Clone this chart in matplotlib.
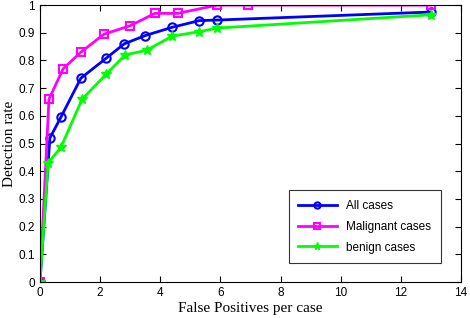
import matplotlib
matplotlib.use('Agg')
import matplotlib.pyplot as plt

# values
all_x = [0, 0.33, 0.7, 1.36, 2.2, 2.8, 3.5, 4.4, 5.3, 5.9, 13.0]
all_y = [0, 0.52, 0.596, 0.736, 0.808, 0.86, 0.89, 0.92, 0.944, 0.946, 0.975]

mal_x = [0, 0.3, 0.77, 1.36, 2.13, 2.99, 3.82, 4.58, 5.9, 6.92, 13.0]
mal_y = [0, 0.66, 0.77, 0.83, 0.895, 0.925, 0.97, 0.97, 1.0, 1.0, 1.0]

ben_x = [0, 0.27, 0.7, 1.4, 2.2, 2.83, 3.55, 4.4, 5.3, 5.9, 13.0]
ben_y = [0, 0.43, 0.487, 0.66, 0.75, 0.82, 0.837, 0.888, 0.904, 0.917, 0.965]

fig = plt.figure(figsize=(4.7, 3.18), dpi=100)
ax = fig.add_axes([0.085, 0.113, 0.896, 0.871])

ax.plot(all_x, all_y, color='#0000ff', lw=2, marker='o', ms=6, mfc='none', mew=1.5, label='All cases')
ax.plot(mal_x, mal_y, color='#ff00ff', lw=2, marker='s', ms=6, mfc='none', mew=1.5, label='Malignant cases')
ax.plot(ben_x, ben_y, color='#00ff00', lw=2, marker='*', ms=7, label='benign cases')

ax.set_xlim(0, 14)
ax.set_ylim(0, 1)
ax.set_xticks(range(0, 15, 2))
ax.set_yticks([i / 10 for i in range(11)])
ax.set_yticklabels(['0'] + ['0.%d' % i for i in range(1, 10)] + ['1'])
ax.tick_params(direction='in', top=True, right=True, labelsize=8.5, length=4)
for lab in ax.get_xticklabels() + ax.get_yticklabels():
    lab.set_family('Liberation Sans')

ax.set_xlabel('False Positives per case', family='Liberation Serif', fontsize=11, labelpad=2)
ax.set_ylabel('Detection rate', family='Liberation Serif', fontsize=11, labelpad=2)

leg = ax.legend(loc='lower right', bbox_to_anchor=(0.952, 0.069), borderaxespad=0,
                fancybox=False, edgecolor='black',
                prop={'family': 'Liberation Sans', 'size': 8.5},
                handlelength=3.3, borderpad=0.8, labelspacing=0.75, markerscale=0.75)
leg.get_frame().set_linewidth(0.8)

fig.savefig('out.png')
